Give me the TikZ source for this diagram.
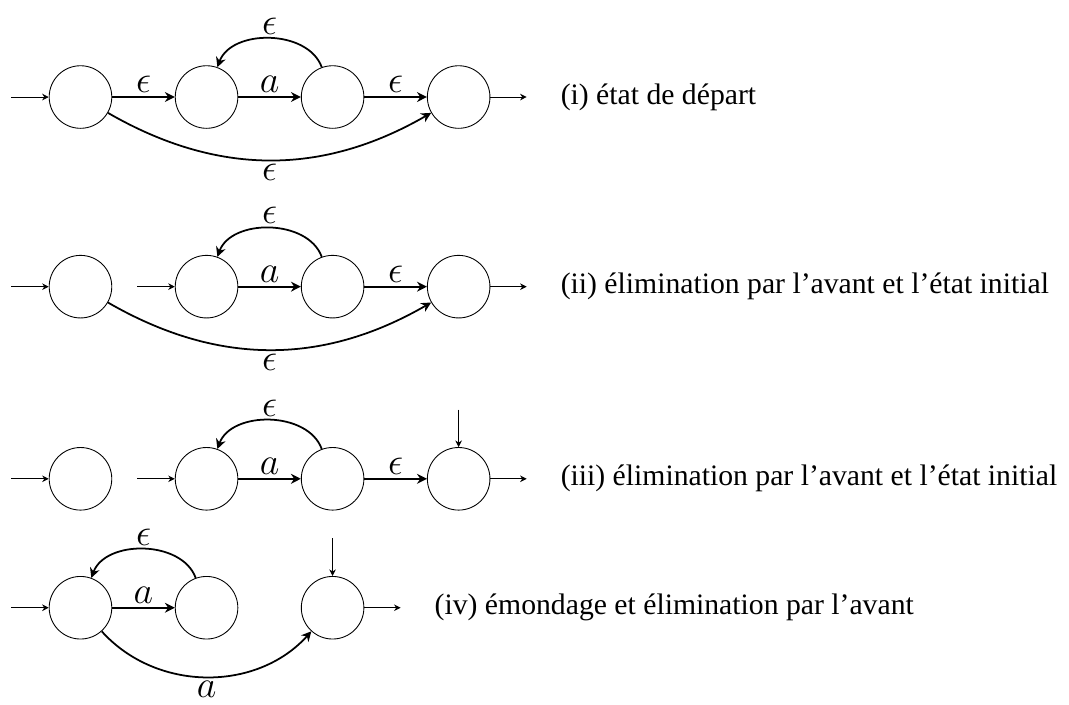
\documentclass[tikz,border=0pt]{standalone}
\usepackage{fontspec}
\setmainfont{Liberation Serif}
\usepackage{tikz}
\usetikzlibrary{positioning}
\usetikzlibrary{arrows.meta}

\tikzset{
  etat/.style={circle,draw,minimum size=1cm,inner sep=0pt},
  trans/.style={thick,-{Stealth[length=4.5pt,width=4.5pt]}},
  io/.style={-{Stealth[length=3pt,width=3pt]}},
  etiq/.style={font=\fontsize{16}{18}\selectfont,inner sep=1.5pt},
  legende/.style={right=of #1}
}

\begin{document}
\begin{tikzpicture}[node distance=1cm,font=\fontsize{13.5}{16}\selectfont]
\useasboundingbox (0,0) rectangle (17.08,-11.25);
% (i) etat de depart
\node[etat] (a0) at (1.286,-1.55) {};
\node[etat,right=of a0] (a1) {};
\node[etat,right=of a1] (a2) {};
\node[etat,right=of a2] (a3) {};
\node[legende=a3] (ta) {(i) état de départ};
\coordinate[left=0.6cm of a0.west] (ia0);
\coordinate[right=0.58cm of a3.east] (oa3);
\draw[io] (ia0) -- (a0);
\draw[io] (a3) -- (oa3);
\draw[trans] (a0) -- node[etiq,above]{$\epsilon$} (a1);
\draw[trans] (a1) -- node[etiq,above]{$a$} (a2);
\draw[trans] (a2) -- node[etiq,above]{$\epsilon$} (a3);
\draw[trans] (a2) to[bend right=70] node[etiq,above]{$\epsilon$} (a1);
\draw[trans] (a0) to[bend right=30] node[etiq,below]{$\epsilon$} (a3);

% (ii)
\node[etat] (b0) at (1.286,-4.58) {};
\node[etat,right=of b0] (b1) {};
\node[etat,right=of b1] (b2) {};
\node[etat,right=of b2] (b3) {};
\node[legende=b3] (tb) {(ii) élimination par l’avant et l’état initial};
\coordinate[left=0.6cm of b0.west] (ib0);
\coordinate[left=0.6cm of b1.west] (ib1);
\coordinate[right=0.58cm of b3.east] (ob3);
\draw[io] (ib0) -- (b0);
\draw[io] (ib1) -- (b1);
\draw[io] (b3) -- (ob3);
\draw[trans] (b1) -- node[etiq,above]{$a$} (b2);
\draw[trans] (b2) -- node[etiq,above]{$\epsilon$} (b3);
\draw[trans] (b2) to[bend right=70] node[etiq,above]{$\epsilon$} (b1);
\draw[trans] (b0) to[bend right=30] node[etiq,below]{$\epsilon$} (b3);

% (iii)
\node[etat] (c0) at (1.286,-7.65) {};
\node[etat,right=of c0] (c1) {};
\node[etat,right=of c1] (c2) {};
\node[etat,right=of c2] (c3) {};
\node[legende=c3] (tc) {(iii) élimination par l’avant et l’état initial};
\coordinate[left=0.6cm of c0.west] (ic0);
\coordinate[left=0.6cm of c1.west] (ic1);
\coordinate[above=0.6cm of c3.north] (ic3);
\coordinate[right=0.58cm of c3.east] (oc3);
\draw[io] (ic0) -- (c0);
\draw[io] (ic1) -- (c1);
\draw[io] (ic3) -- (c3);
\draw[io] (c3) -- (oc3);
\draw[trans] (c1) -- node[etiq,above]{$a$} (c2);
\draw[trans] (c2) -- node[etiq,above]{$\epsilon$} (c3);
\draw[trans] (c2) to[bend right=70] node[etiq,above]{$\epsilon$} (c1);

% (iv) emondage
\node[etat] (d0) at (1.286,-9.71) {};
\node[etat,right=of d0] (d1) {};
\node[etat,right=of d1] (d3) {};
\node[legende=d3] (td) {(iv) émondage et élimination par l’avant};
\coordinate[left=0.6cm of d0.west] (id0);
\coordinate[above=0.6cm of d3.north] (id3);
\coordinate[right=0.58cm of d3.east] (od3);
\draw[io] (id0) -- (d0);
\draw[io] (id3) -- (d3);
\draw[io] (d3) -- (od3);
\draw[trans] (d0) -- node[etiq,above]{$a$} (d1);
\draw[trans] (d1) to[bend right=70] node[etiq,above]{$\epsilon$} (d0);
\draw[trans] (d0) to[bend right=48] node[etiq,below]{$a$} (d3);
\end{tikzpicture}
\end{document}
